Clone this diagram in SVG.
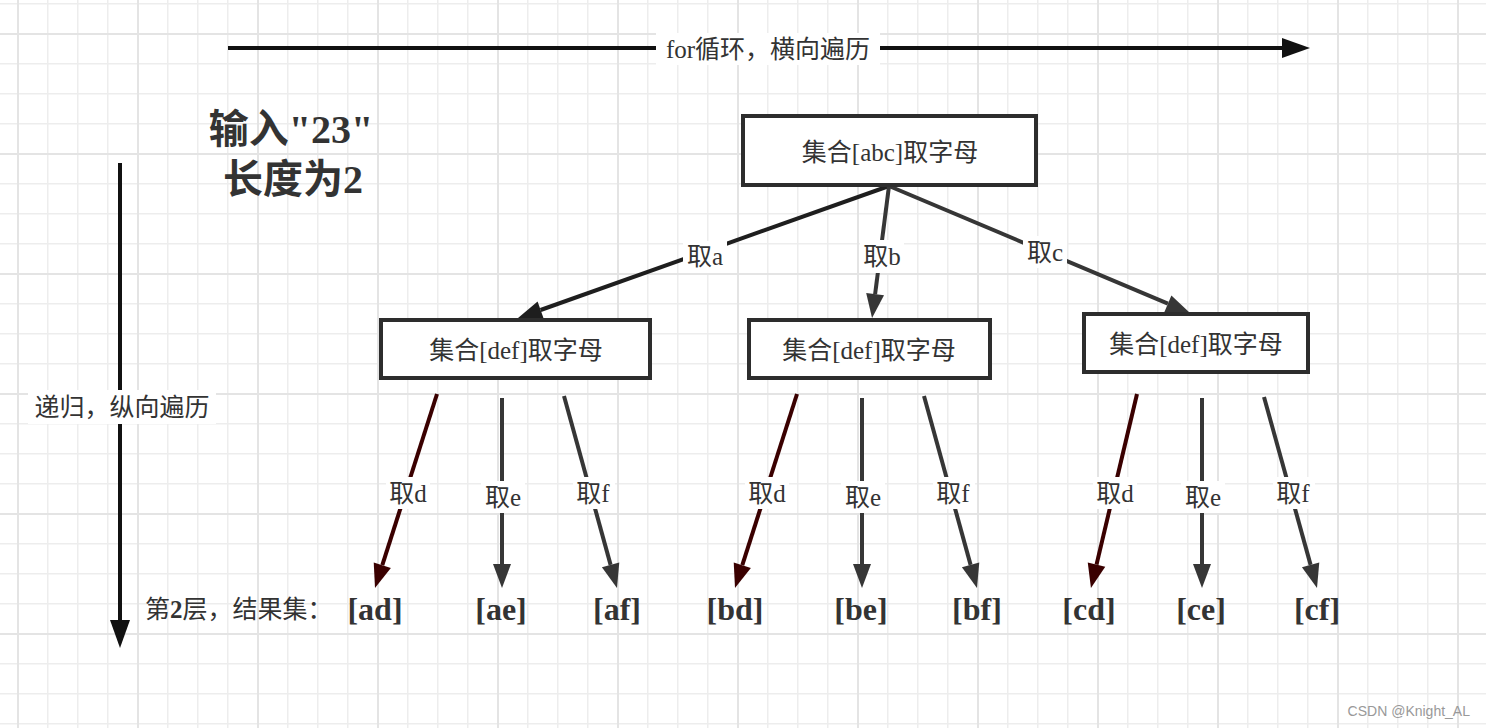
<svg xmlns="http://www.w3.org/2000/svg" width="1486" height="728" viewBox="0 0 1486 728">
<style>
.lbl{font-family:"Liberation Serif","Noto Sans CJK SC",serif;font-size:25px;fill:#333;text-anchor:middle;dominant-baseline:central}
.res{font-family:"Liberation Serif","Noto Sans CJK SC",serif;font-size:32px;font-weight:bold;fill:#333;text-anchor:middle}
.node rect{fill:#fff;stroke:#2d2d2d;stroke-width:4}
.bg{fill:#fff}
.ax{stroke:#111;stroke-width:4;fill:none}
.c1{stroke:#1e1e1e;stroke-width:4;fill:none}
.c2{stroke:#363636;stroke-width:4;fill:none}
.cr{stroke:#3a0000;stroke-width:4;fill:none}
</style>
<defs>
<pattern id="minor" patternUnits="userSpaceOnUse" x="17" y="3" width="30" height="30">
<path d="M0.75,0 V30 M0,0.75 H30" stroke="#ededed" stroke-width="1.5" fill="none"/>
</pattern>
<pattern id="major" patternUnits="userSpaceOnUse" x="17" y="33" width="120" height="120">
<path d="M1,0 V120 M0,1 H120" stroke="#e4e4e4" stroke-width="2" fill="none"/>
</pattern>
<marker id="aBig" markerUnits="userSpaceOnUse" markerWidth="30" markerHeight="24" refX="0" refY="0" orient="auto" overflow="visible">
<path d="M0,-10 L28,0 L0,10 z" fill="#111"/>
</marker>
<marker id="aK" markerUnits="userSpaceOnUse" markerWidth="26" markerHeight="20" refX="0" refY="0" orient="auto" overflow="visible">
<path d="M0,-9 L24,0 L0,9 z" fill="#1e1e1e"/>
</marker>
<marker id="aG" markerUnits="userSpaceOnUse" markerWidth="26" markerHeight="20" refX="0" refY="0" orient="auto" overflow="visible">
<path d="M0,-9 L24,0 L0,9 z" fill="#363636"/>
</marker>
<marker id="aR" markerUnits="userSpaceOnUse" markerWidth="26" markerHeight="20" refX="0" refY="0" orient="auto" overflow="visible">
<path d="M0,-9 L24,0 L0,9 z" fill="#3a0000"/>
</marker>
</defs>
<rect width="1486" height="728" fill="#fff"/>
<rect width="1486" height="728" fill="url(#minor)"/>
<rect width="1486" height="728" fill="url(#major)"/>

<g id="axes">
<line class="ax" x1="228" y1="48" x2="1282" y2="48" marker-end="url(#aBig)"/>
<rect class="bg" x="656" y="33" width="224" height="32"/>
<text class="lbl" x="768" y="49" font-size="26">for循环，横向遍历</text>
<line class="ax" x1="120" y1="163" x2="120" y2="620" marker-end="url(#aBig)"/>
<rect class="bg" x="28" y="390" width="188" height="34"/>
<text class="lbl" x="122" y="407" font-size="26">递归，纵向遍历</text>
</g>

<g id="title" font-family="'Liberation Serif','Noto Sans CJK SC',serif" font-size="40" font-weight="bold" fill="#333" text-anchor="middle">
<text x="291" y="143">输入"23"</text>
<text x="293" y="193">长度为2</text>
</g>

<g id="connectors">
<line class="c1" x1="889" y1="186" x2="540.6" y2="310" marker-end="url(#aK)"/>
<line class="c2" x1="889" y1="186" x2="875.1" y2="294.2" marker-end="url(#aG)"/>
<line class="c2" x1="889" y1="186" x2="1167.9" y2="303.7" marker-end="url(#aG)"/>

<line class="cr" x1="437" y1="394" x2="382.3" y2="565.2" marker-end="url(#aR)"/>
<line class="c2" x1="502" y1="398" x2="502" y2="564" marker-end="url(#aG)"/>
<line class="c2" x1="564" y1="396" x2="610.6" y2="564.9" marker-end="url(#aG)"/>

<line class="cr" x1="797" y1="394" x2="742.3" y2="565.2" marker-end="url(#aR)"/>
<line class="c2" x1="862" y1="398" x2="862" y2="564" marker-end="url(#aG)"/>
<line class="c2" x1="924" y1="396" x2="970.6" y2="564.9" marker-end="url(#aG)"/>

<line class="cr" x1="1137" y1="394" x2="1096.5" y2="564.6" marker-end="url(#aR)"/>
<line class="c2" x1="1202" y1="398" x2="1202" y2="564" marker-end="url(#aG)"/>
<line class="c2" x1="1264" y1="397" x2="1310.6" y2="564.9" marker-end="url(#aG)"/>

<rect class="bg" x="683" y="241" width="44" height="32"/>
<text class="lbl" x="705" y="256">取a</text>
<rect class="bg" x="860" y="240" width="44" height="33"/>
<text class="lbl" x="882" y="256">取b</text>
<rect class="bg" x="1023" y="236" width="44" height="32"/>
<text class="lbl" x="1045" y="252">取c</text>

<rect class="bg" x="386" y="477" width="44" height="32"/>
<text class="lbl" x="408" y="493">取d</text>
<rect class="bg" x="481" y="481" width="44" height="32"/>
<text class="lbl" x="503" y="497">取e</text>
<rect class="bg" x="573" y="477" width="42" height="32"/>
<text class="lbl" x="593" y="493">取f</text>

<rect class="bg" x="745" y="477" width="44" height="32"/>
<text class="lbl" x="767" y="493">取d</text>
<rect class="bg" x="841" y="481" width="44" height="32"/>
<text class="lbl" x="863" y="497">取e</text>
<rect class="bg" x="933" y="477" width="42" height="32"/>
<text class="lbl" x="953" y="493">取f</text>

<rect class="bg" x="1093" y="477" width="44" height="32"/>
<text class="lbl" x="1115" y="493">取d</text>
<rect class="bg" x="1181" y="481" width="44" height="32"/>
<text class="lbl" x="1203" y="497">取e</text>
<rect class="bg" x="1273" y="477" width="42" height="32"/>
<text class="lbl" x="1293" y="493">取f</text>
</g>

<g id="n-abc" class="node">
<rect x="743" y="116" width="293" height="69"/>
<text class="lbl" x="890" y="152">集合[abc]取字母</text>
</g>
<g id="n-def-a" class="node">
<rect x="381" y="320" width="269" height="58"/>
<text class="lbl" x="516" y="350">集合[def]取字母</text>
</g>
<g id="n-def-b" class="node">
<rect x="749" y="320" width="241" height="58"/>
<text class="lbl" x="869" y="350">集合[def]取字母</text>
</g>
<g id="n-def-c" class="node">
<rect x="1084" y="314" width="224" height="58"/>
<text class="lbl" x="1196" y="344">集合[def]取字母</text>
</g>

<g id="results">
<text x="145" y="618" font-family="'Liberation Serif','Noto Sans CJK SC',serif" font-size="25" fill="#333">第<tspan font-weight="bold">2</tspan>层，结果集：</text>
<text class="res" x="375" y="620">[ad]</text>
<text class="res" x="501" y="620">[ae]</text>
<text class="res" x="617" y="620">[af]</text>
<text class="res" x="735" y="620">[bd]</text>
<text class="res" x="861" y="620">[be]</text>
<text class="res" x="977" y="620">[bf]</text>
<text class="res" x="1089" y="620">[cd]</text>
<text class="res" x="1201" y="620">[ce]</text>
<text class="res" x="1317" y="620">[cf]</text>
</g>

<text x="1470" y="716" font-family="'Liberation Sans',sans-serif" font-size="14" fill="#999" text-anchor="end">CSDN @Knight_AL</text>
</svg>
